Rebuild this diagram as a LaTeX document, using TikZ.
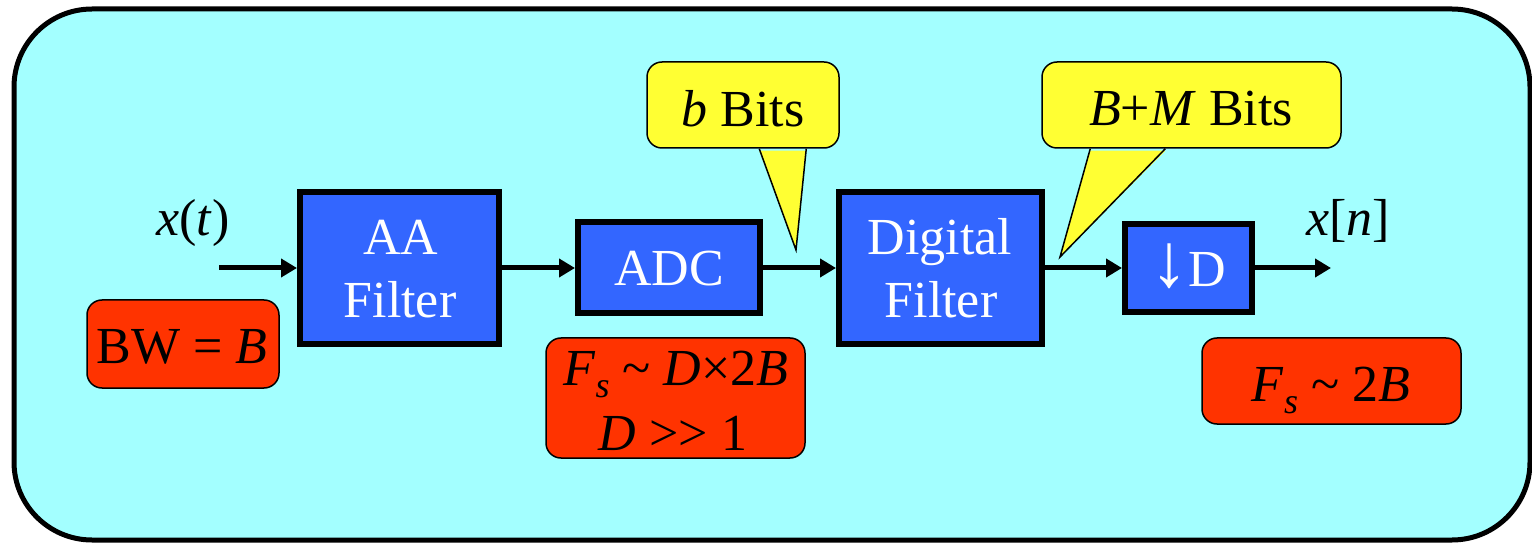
\documentclass[tikz,border=0pt]{standalone}
\usepackage{fontspec}
\setmainfont{Liberation Serif}
\usetikzlibrary{arrows.meta}
\definecolor{bgcyan}{RGB}{163,255,255}
\definecolor{boxblue}{RGB}{51,102,255}
\definecolor{notered}{RGB}{255,51,0}
\definecolor{callyellow}{RGB}{255,255,51}
\newcommand{\Fsub}{\textit{F}\raisebox{-12pt}{\fontsize{36}{36}\selectfont\textit{s}}}
\begin{document}
\begin{tikzpicture}[x=1pt,y=-1pt,
  blockbox/.style={draw=black, line width=6pt, fill=boxblue, inner sep=0pt},
  notebox/.style={draw=black, line width=1.5pt, fill=notered, rounded corners=15pt, inner sep=0pt},
  callbox/.style={draw=black, line width=1.5pt, fill=callyellow, rounded corners=15pt, inner sep=0pt},
  lbl/.style={anchor=base, inner sep=0pt, font=\fontsize{52}{63}\selectfont},
  wlbl/.style={lbl, text=white},
  sig/.style={line width=5pt, -{Triangle[length=16pt,width=18pt]}},
  pointer/.style={line width=1.5pt, line join=miter}
]
\useasboundingbox (0,0) rectangle (1532,545);
% background panel
\draw[line width=5pt, fill=bgcyan, rounded corners=78pt] (14,9) rectangle (1530,540);

% blocks
\node[blockbox, minimum width=199pt, minimum height=152pt] (aa) at (399.5,268) {};
\node[blockbox, minimum width=182pt, minimum height=91pt] (adc) at (669,268) {};
\node[blockbox, minimum width=203pt, minimum height=152pt] (df) at (940.5,268) {};
\node[blockbox, minimum width=127pt, minimum height=88pt] (dec) at (1188.5,268) {};

\node[wlbl] (aa1) at (401,255) {AA};
\node[wlbl] (aa2) at (400,318) {Filter};
\node[wlbl] (adct) at (669,286) {ADC};
\node[wlbl] (df1) at (940,255) {Digital};
\node[wlbl] (df2) at (941,318) {Filter};
\node[wlbl] (dect) at (1188,287) {{\fontsize{76}{76}\selectfont ↓}D};

% signal path
\coordinate (xin) at (219,268);
\coordinate (xout) at (1331,268);
\draw[sig] (xin) -- (aa.west);
\draw[sig] (aa.east) -- (adc.west);
\draw[sig] (adc.east) -- (df.west);
\draw[sig] (df.east) -- (dec.west);
\draw[sig] (dec.east) -- (xout);

\node[lbl] (xt) at (193,236) {\textit{x}(\textit{t})};
\node[lbl] (xn) at (1348,236) {\textit{x}[\textit{n}]};

% red notes
\node[notebox, minimum width=192pt, minimum height=88pt] (bw) at (183,344) {};
\node[lbl] (bwt) at (182,363) {BW = \textit{B}};
\node[notebox, minimum width=259pt, minimum height=120pt] (fs1) at (675.5,398) {};
\node[lbl] (fs1a) at (676,385) {\Fsub\ \textasciitilde\ \textit{D}×2\textit{B}};
\node[lbl] (fs1b) at (673,450) {\textit{D} >{}> 1};
\node[notebox, minimum width=259pt, minimum height=86pt] (fs2) at (1331.5,381) {};
\node[lbl] (fs2t) at (1331,401) {\Fsub\ \textasciitilde\ 2\textit{B}};

% callouts
\node[callbox, minimum width=192pt, minimum height=86pt] (cb) at (743,105) {};
\coordinate (cbtip) at (796,250);
\fill[callyellow] ([xshift=113pt,yshift=-2pt]cb.south west) -- (cbtip) -- ([xshift=160pt,yshift=-2pt]cb.south west) -- cycle;
\draw[pointer] ([xshift=113pt]cb.south west) -- (cbtip) -- ([xshift=160pt]cb.south west);
\node[lbl] (cbt) at (743,127) {\textit{b} Bits};

\node[callbox, minimum width=299pt, minimum height=86pt] (cm) at (1191.5,105) {};
\coordinate (cmtip) at (1060,257);
\fill[callyellow] ([xshift=49pt,yshift=-2pt]cm.south west) -- (cmtip) -- ([xshift=124pt,yshift=-2pt]cm.south west) -- cycle;
\draw[pointer] ([xshift=49pt]cm.south west) -- (cmtip) -- ([xshift=124pt]cm.south west);
\node[lbl] (cmt) at (1191,126) {\textit{B}+\textit{M} Bits};
\end{tikzpicture}
\end{document}
